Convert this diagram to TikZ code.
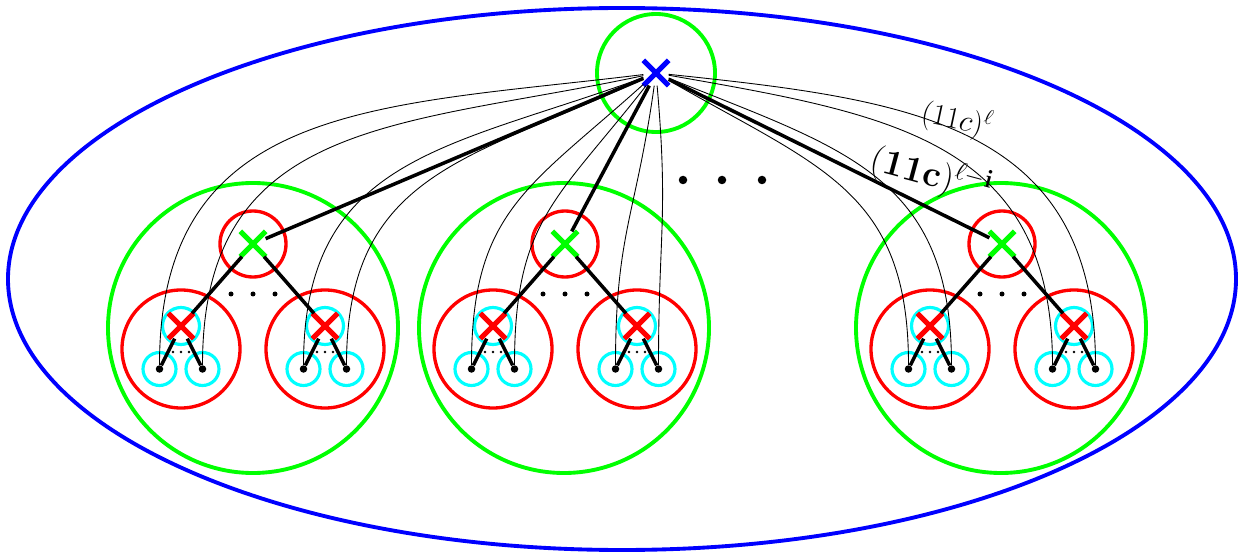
\documentclass[tikz,border=0pt]{standalone}
\usepackage{amsmath}
\usepackage{amssymb}
\usepackage{tikz}
\usetikzlibrary{shapes.misc}
\definecolor{aqua}{RGB}{0,255,255}
\definecolor{lime}{RGB}{0,255,0}

\begin{document}
\begin{tikzpicture}
\tikzstyle{bigc}=[circle,draw=lime,line width=2.2pt,minimum size=5.8cm,inner sep=0pt]
\tikzstyle{rootc}=[circle,draw=lime,line width=2.2pt,minimum size=2.36cm,inner sep=0pt]
\tikzstyle{topc}=[circle,draw=red,line width=1.9pt,minimum size=1.32cm,inner sep=0pt]
\tikzstyle{subc}=[circle,draw=red,line width=1.9pt,minimum size=2.36cm,inner sep=0pt]
\tikzstyle{midc}=[circle,draw=aqua,line width=1.8pt,minimum size=0.74cm,inner sep=0pt]
\tikzstyle{leafc}=[circle,draw=aqua,line width=1.8pt,minimum size=0.66cm,inner sep=0pt]
\tikzstyle{leaf}=[circle,fill=black,minimum size=0.15cm,inner sep=0pt]
\tikzstyle{rootx}=[cross out,draw=blue,line width=3pt,minimum size=0.4cm,inner sep=0pt]
\tikzstyle{greenx}=[cross out,draw=lime,line width=3pt,minimum size=0.4cm,inner sep=0pt]
\tikzstyle{redx}=[cross out,draw=red,line width=3pt,minimum size=0.4cm,inner sep=0pt]
\tikzstyle{edge}=[line width=2pt]
\tikzstyle{wire}=[line width=0.5pt,looseness=1.2]
\tikzstyle{bigdot}=[circle,fill=black,minimum size=0.17cm,inner sep=0pt]
\tikzstyle{dot}=[circle,fill=black,minimum size=0.1cm,inner sep=0pt]
\tikzstyle{tiny}=[circle,fill=black,minimum size=0.055cm,inner sep=0pt]
\useasboundingbox (0,0) rectangle (24.76,-11.06);
\draw[blue,line width=2.2pt] (12.44,-5.58) ellipse [x radius=12.28,y radius=5.42];
\node[rootc] (rc) at (13.12,-1.46) {};
\node[bigc] (b1) at (5.06,-6.56) {};
\node[bigc] (b2) at (11.28,-6.56) {};
\node[bigc] (b3) at (20.02,-6.56) {};
\node[topc] (t1c) at (5.06,-4.88) {};
\node[topc] (t2c) at (11.30,-4.88) {};
\node[topc] (t3c) at (20.04,-4.88) {};
\node[subc] (s11) at (3.62,-6.98) {};
\node[subc] (s12) at (6.50,-6.98) {};
\node[subc] (s21) at (9.86,-6.98) {};
\node[subc] (s22) at (12.74,-6.98) {};
\node[subc] (s31) at (18.60,-6.98) {};
\node[subc] (s32) at (21.48,-6.98) {};
\node[midc] (m11) at (3.62,-6.52) {};
\node[midc] (m12) at (6.50,-6.52) {};
\node[midc] (m21) at (9.86,-6.52) {};
\node[midc] (m22) at (12.74,-6.52) {};
\node[midc] (m31) at (18.60,-6.52) {};
\node[midc] (m32) at (21.48,-6.52) {};
\node[leafc] (c111) at (3.19,-7.38) {};
\node[leafc] (c112) at (4.05,-7.38) {};
\node[leafc] (c121) at (6.07,-7.38) {};
\node[leafc] (c122) at (6.93,-7.38) {};
\node[leafc] (c211) at (9.43,-7.38) {};
\node[leafc] (c212) at (10.29,-7.38) {};
\node[leafc] (c221) at (12.31,-7.38) {};
\node[leafc] (c222) at (13.17,-7.38) {};
\node[leafc] (c311) at (18.17,-7.38) {};
\node[leafc] (c312) at (19.03,-7.38) {};
\node[leafc] (c321) at (21.05,-7.38) {};
\node[leafc] (c322) at (21.91,-7.38) {};
\node[leaf] (l111) at (3.19,-7.38) {};
\node[leaf] (l112) at (4.05,-7.38) {};
\node[leaf] (l121) at (6.07,-7.38) {};
\node[leaf] (l122) at (6.93,-7.38) {};
\node[leaf] (l211) at (9.43,-7.38) {};
\node[leaf] (l212) at (10.29,-7.38) {};
\node[leaf] (l221) at (12.31,-7.38) {};
\node[leaf] (l222) at (13.17,-7.38) {};
\node[leaf] (l311) at (18.17,-7.38) {};
\node[leaf] (l312) at (19.03,-7.38) {};
\node[leaf] (l321) at (21.05,-7.38) {};
\node[leaf] (l322) at (21.91,-7.38) {};
\node[rootx] (r) at (13.12,-1.46) {};
\node[greenx] (t1) at (5.06,-4.88) {};
\node[greenx] (t2) at (11.30,-4.88) {};
\node[greenx] (t3) at (20.04,-4.88) {};
\node[redx] (x11) at (3.62,-6.52) {};
\node[redx] (x12) at (6.50,-6.52) {};
\node[redx] (x21) at (9.86,-6.52) {};
\node[redx] (x22) at (12.74,-6.52) {};
\node[redx] (x31) at (18.60,-6.52) {};
\node[redx] (x32) at (21.48,-6.52) {};
\node[bigdot] (d1) at (13.66,-3.60) {};
\node[bigdot] (d2) at (14.44,-3.60) {};
\node[bigdot] (d3) at (15.24,-3.60) {};
\node[dot] (e11) at (4.62,-5.88) {};
\node[dot] (e12) at (5.06,-5.88) {};
\node[dot] (e13) at (5.50,-5.88) {};
\node[dot] (e21) at (10.86,-5.88) {};
\node[dot] (e22) at (11.30,-5.88) {};
\node[dot] (e23) at (11.74,-5.88) {};
\node[dot] (e31) at (19.60,-5.88) {};
\node[dot] (e32) at (20.04,-5.88) {};
\node[dot] (e33) at (20.48,-5.88) {};
\node[tiny] (f111) at (3.46,-7.04) {};
\node[tiny] (f112) at (3.62,-7.04) {};
\node[tiny] (f113) at (3.78,-7.04) {};
\node[tiny] (f121) at (6.34,-7.04) {};
\node[tiny] (f122) at (6.50,-7.04) {};
\node[tiny] (f123) at (6.66,-7.04) {};
\node[tiny] (f211) at (9.70,-7.04) {};
\node[tiny] (f212) at (9.86,-7.04) {};
\node[tiny] (f213) at (10.02,-7.04) {};
\node[tiny] (f221) at (12.58,-7.04) {};
\node[tiny] (f222) at (12.74,-7.04) {};
\node[tiny] (f223) at (12.90,-7.04) {};
\node[tiny] (f311) at (18.44,-7.04) {};
\node[tiny] (f312) at (18.60,-7.04) {};
\node[tiny] (f313) at (18.76,-7.04) {};
\node[tiny] (f321) at (21.32,-7.04) {};
\node[tiny] (f322) at (21.48,-7.04) {};
\node[tiny] (f323) at (21.64,-7.04) {};
\draw[wire] (r) to[out=187,in=90] (l111);
\draw[wire] (r) to[out=192,in=90] (l112);
\draw[wire] (r) to[out=200,in=90] (l121);
\draw[wire] (r) to[out=205,in=90] (l122);
\draw[wire] (r) to[out=222,in=90] (l211);
\draw[wire] (r) to[out=232,in=90] (l212);
\draw[wire] (r) to[out=262,in=90] (l221);
\draw[wire] (r) to[out=275,in=90] (l222);
\draw[wire] (r) to[out=330,in=90] (l311);
\draw[wire] (r) to[out=338,in=90] (l312);
\draw[wire] (r) to[out=350,in=90] (l321);
\draw[wire] (r) to[out=354,in=90] (l322);
\draw[edge] (r) -- (t1);
\draw[edge] (r) -- (t2);
\draw[edge] (r) -- (t3);
\draw[edge] (t1) -- (x11);
\draw[edge] (t1) -- (x12);
\draw[edge] (t2) -- (x21);
\draw[edge] (t2) -- (x22);
\draw[edge] (t3) -- (x31);
\draw[edge] (t3) -- (x32);
\draw[edge] (x11) -- (l111);
\draw[edge] (x11) -- (l112);
\draw[edge] (x12) -- (l121);
\draw[edge] (x12) -- (l122);
\draw[edge] (x21) -- (l211);
\draw[edge] (x21) -- (l212);
\draw[edge] (x22) -- (l221);
\draw[edge] (x22) -- (l222);
\draw[edge] (x31) -- (l311);
\draw[edge] (x31) -- (l312);
\draw[edge] (x32) -- (l321);
\draw[edge] (x32) -- (l322);
\node[rotate=-12,font=\LARGE] (lab1) at (19.14,-2.40) {$(11c)^{\ell}$};
\node[rotate=-15,font=\huge] (lab2) at (18.62,-3.50) {$(\mathbf{11c})^{\ell-\mathbf{i}}$};
\end{tikzpicture}
\end{document}
